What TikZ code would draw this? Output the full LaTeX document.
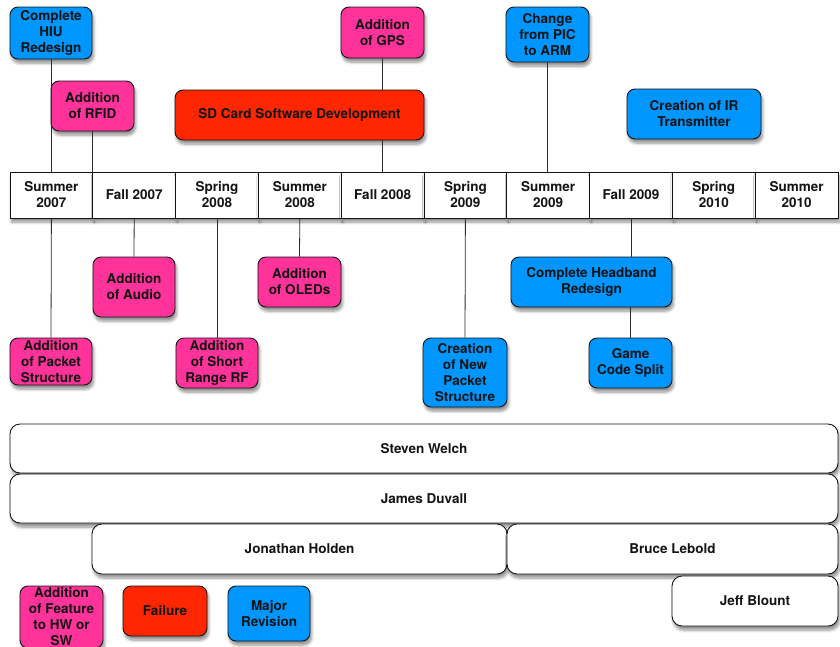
\documentclass[tikz,border=0pt]{standalone}
\usepackage{fontspec}
\setmainfont{TeX Gyre Heros}
\usetikzlibrary{shadows.blur}
\definecolor{evblue}{RGB}{0,150,255}
\definecolor{evpink}{RGB}{255,51,153}
\definecolor{evred}{RGB}{255,38,0}
\definecolor{edge}{RGB}{20,20,20}
\tikzset{
  softshadow/.style={blur shadow={shadow xshift=1.5pt, shadow yshift=-4pt,
      shadow blur radius=3pt, shadow blur steps=6, shadow opacity=45}},
  label font/.style={font=\fontsize{13.5}{16}\selectfont\bfseries, text=black!92},
  box/.style={draw=edge, line width=0.9pt, rounded corners=8pt, align=center,
      inner sep=0pt, label font, softshadow},
  sz/.style 2 args={minimum width=#1pt, minimum height=#2pt},
  feature/.style={box, fill=evpink},
  major/.style={box, fill=evblue},
  failure/.style={box, fill=evred},
  person/.style={box, fill=white, rounded corners=10pt},
  cell/.style={draw=edge, line width=0.9pt, fill=white, align=center, inner sep=0pt,
      label font, softshadow, minimum width=82.8pt, minimum height=46pt},
  link/.style={draw=edge!90, line width=0.8pt},
}
\begin{document}
\begin{tikzpicture}[x=1pt, y=-1pt]
\clip (0,0) rectangle (840,646);
\useasboundingbox (0,0) rectangle (840,646);

% semester timeline
\foreach \t [count=\i] in {{Summer\\2007},{Fall 2007},{Spring\\2008},{Summer\\2008},
    {Fall 2008},{Spring\\2009},{Summer\\2009},{Fall 2009},{Spring\\2010},{Summer\\2010}}
  \node[cell] (c\i) at ({10+82.8*(\i-0.5)},195) {\t};

% milestones above the timeline
\node[major, sz={82}{52}]   (hiu)    at (51,33)    {Complete\\HIU\\Redesign};
\node[feature, sz={83}{50}] (rfid)   at (92.5,106) {Addition\\of RFID};
\node[failure, sz={249}{50}] (sdcard) at (299.5,115) {SD Card Software Development};
\node[feature, sz={83}{51}] (gps)    at (382.5,32.5) {Addition\\of GPS};
\node[major, sz={83}{55}]   (arm)    at (547.5,34.5) {Change\\from PIC\\to ARM};
\node[major, sz={134}{50}]  (irtx)   at (694,114)  {Creation of IR\\Transmitter};

% milestones below the timeline
\node[feature, sz={82}{47}] (packet)   at (51,361.5)  {Addition\\of Packet\\Structure};
\node[feature, sz={82}{60}] (audio)    at (134,287)   {Addition\\of Audio};
\node[feature, sz={82}{50}] (shortrf)  at (217,363)   {Addition\\of Short\\Range RF};
\node[feature, sz={83}{50}] (oleds)    at (299.5,282) {Addition\\of OLEDs};
\node[major, sz={84}{69}]   (newpkt)   at (465,372.5) {Creation\\of New\\Packet\\Structure};
\node[major, sz={161}{50}]  (headband) at (591.5,282) {Complete Headband\\Redesign};
\node[major, sz={83}{50}]   (game)     at (630.5,363) {Game\\Code Split};

% team members
\node[person, sz={828}{49}] (welch)  at (424,448.5) {Steven Welch};
\node[person, sz={828}{49}] (duvall) at (424,498.5) {James Duvall};
\node[person, sz={415}{50}] (holden) at (299.5,549) {Jonathan Holden};
\node[person, sz={331}{50}] (lebold) at (672.5,549) {Bruce Lebold};
\node[person, sz={166}{50}] (blount) at (755,601)   {Jeff Blount};

% legend
\node[feature, sz={83}{62}] (legfeat)  at (61.5,617) {Addition\\of Feature\\to HW or\\SW};
\node[failure, sz={84}{50}] (legfail)  at (165,611)  {Failure};
\node[major, sz={82}{55}]   (legmajor) at (269,613.5) {Major\\Revision};

% connectors
\draw[link] (hiu.south) -- (hiu.south |- c1.north);
\draw[link] (rfid.south) -- (rfid.south |- c1.north);
\draw[link] (gps.south) -- (gps.south |- sdcard.north);
\draw[link] (c5.north |- sdcard.south) -- (c5.north);
\draw[link] (arm.south) -- (arm.south |- c7.north);
\draw[link] (c1.south) -- (packet.north);
\draw[link] (c2.south) -- (audio.north);
\draw[link] (c3.south) -- (shortrf.north);
\draw[link] (c4.south) -- (oleds.north);
\draw[link] (c6.south) -- (newpkt.north);
\draw[link] (c8.south) -- (c8.south |- headband.north);
\draw[link] (game.north |- headband.south) -- (game.north);
\end{tikzpicture}
\end{document}
